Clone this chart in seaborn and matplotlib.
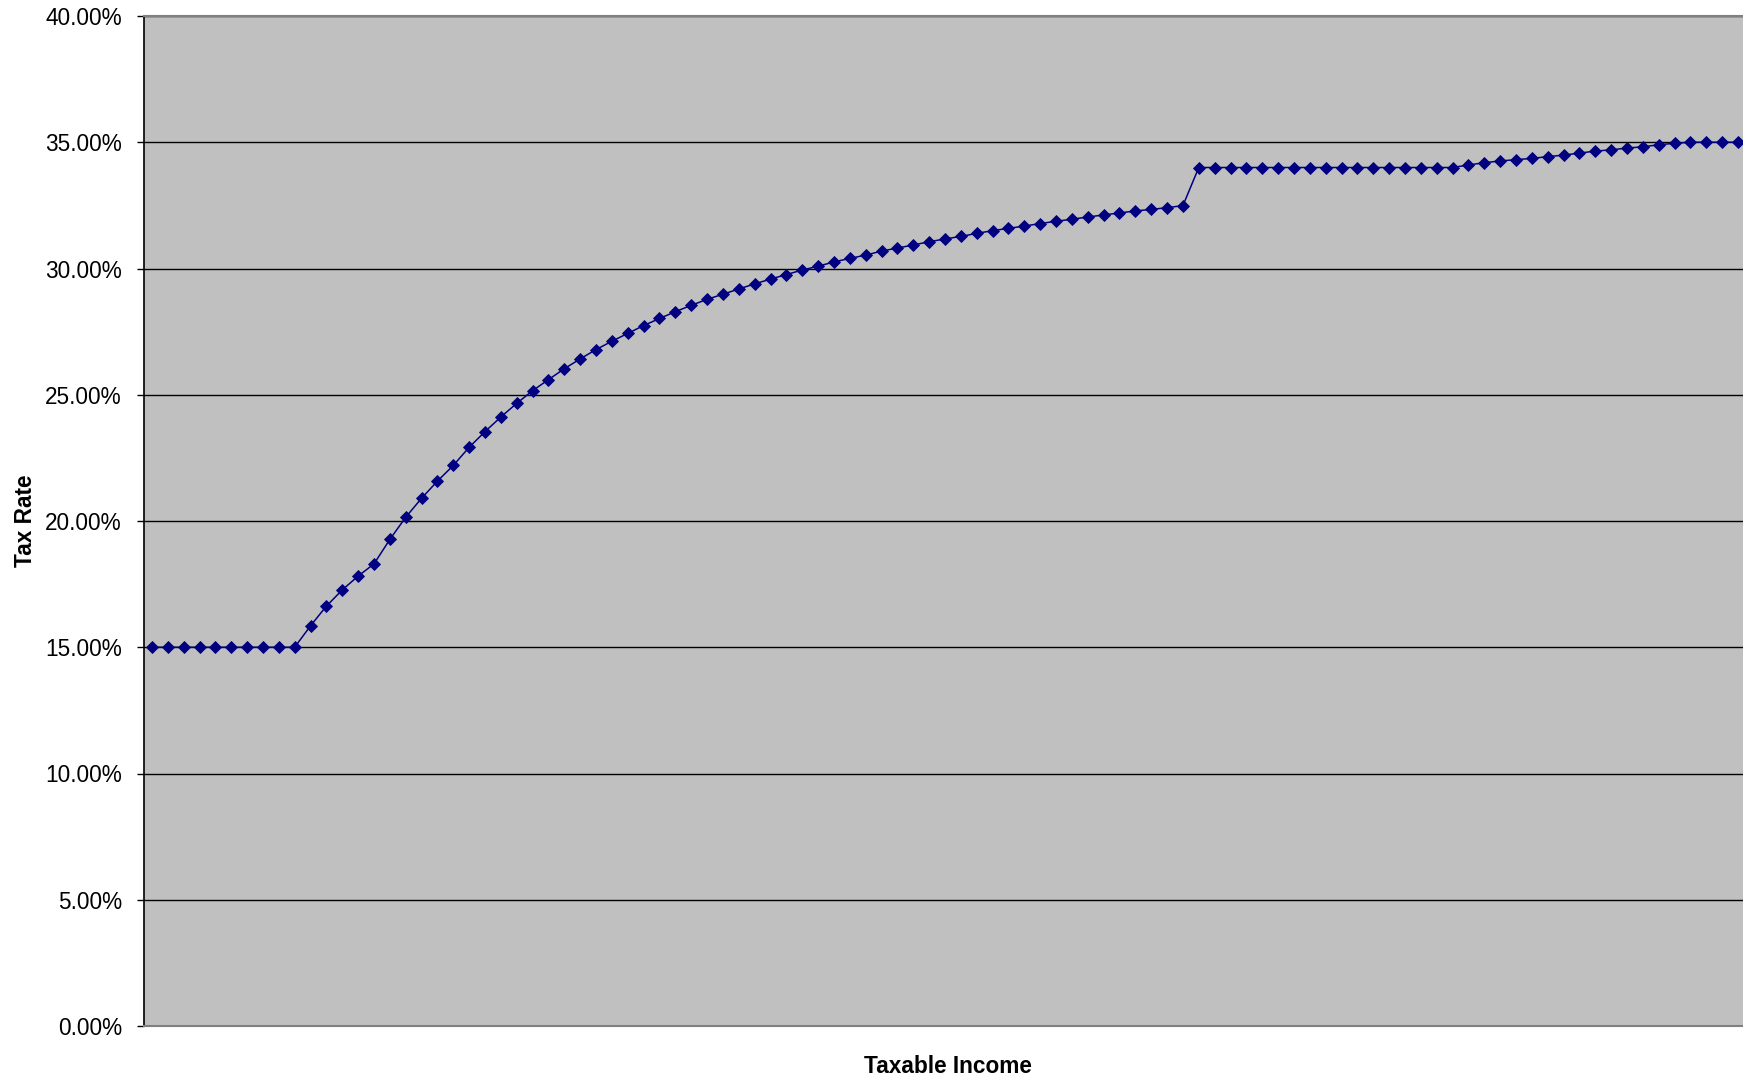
import matplotlib
matplotlib.use("Agg")
import matplotlib.pyplot as plt
import seaborn as sns
import pandas as pd
from matplotlib.ticker import FuncFormatter

# Effective tax rate (%) at each taxable-income step
tax_rates = [
    15.00, 15.00, 15.00, 15.00, 15.00, 15.00, 15.00, 15.00, 15.00, 15.00,
    15.85, 16.63, 17.27, 17.82, 18.30, 19.27, 20.15, 20.90, 21.58, 22.20,
    22.92, 23.54, 24.12, 24.66, 25.16, 25.60, 26.03, 26.42, 26.79, 27.12,
    27.43, 27.74, 28.02, 28.29, 28.54, 28.78, 28.98, 29.19, 29.39, 29.58,
    29.76, 29.94, 30.09, 30.26, 30.40, 30.53, 30.69, 30.81, 30.93, 31.06,
    31.17, 31.27, 31.39, 31.50, 31.59, 31.68, 31.78, 31.87, 31.95, 32.04,
    32.12, 32.20, 32.28, 32.34, 32.41, 32.49,
    34.00, 34.00, 34.00, 34.00, 34.00, 34.00, 34.00, 34.00, 34.00, 34.00,
    34.00, 34.00, 34.00, 34.00, 34.00, 34.00, 34.00,
    34.10, 34.19, 34.26, 34.31, 34.36, 34.43, 34.49, 34.57, 34.65, 34.70,
    34.77, 34.82, 34.90, 34.96,
    35.00, 35.00, 35.00, 35.00,
]
income_step = list(range(len(tax_rates)))

y_ticks = [0, 5, 10, 15, 20, 25, 30, 35, 40]

df = pd.DataFrame({"step": income_step, "rate": tax_rates})

sns.set_style("white")
plt.rcParams["font.family"] = ["Liberation Sans", "DejaVu Sans"]
plt.rcParams["text.color"] = "black"
plt.rcParams["axes.labelcolor"] = "black"

fig = plt.figure(figsize=(17.43, 10.75), dpi=100)
ax = fig.add_axes([144 / 1743, 49 / 1075, 1602 / 1743, 1010 / 1075])
ax.set_facecolor("#C0C0C0")

sns.lineplot(
    data=df, x="step", y="rate", ax=ax,
    color="#000080", linewidth=1.1,
    marker="D", markersize=6.2, markeredgewidth=0.6,
    markeredgecolor="#000080", markerfacecolor="#000080",
)

ax.set_xlim(-0.5, len(tax_rates) - 0.5)
ax.set_ylim(0, 40)
ax.set_yticks(y_ticks)
ax.yaxis.set_major_formatter(FuncFormatter(lambda v, _: f"{v:.2f}%"))
ax.set_xticks([])

ax.grid(axis="y", color="black", linewidth=1.0)
ax.set_axisbelow(True)

ax.tick_params(axis="y", which="major", direction="out", length=5,
               width=1.0, color="black", pad=11, labelsize=16.3,
               labelcolor="black", left=True)

for side in ("top", "bottom", "right"):
    ax.spines[side].set_color("#808080")
    ax.spines[side].set_linewidth(1.5)
ax.spines["left"].set_color("black")
ax.spines["left"].set_linewidth(1.2)

ax.set_ylabel("Tax Rate", fontsize=16.3, fontweight="bold", color="black")
ax.yaxis.set_label_coords(-0.0668, 0.5)
ax.set_xlabel("Taxable Income", fontsize=16.3, fontweight="bold", color="black")
ax.xaxis.set_label_coords(0.502, -0.029)

fig.savefig("out.png", dpi=100, facecolor="white")
